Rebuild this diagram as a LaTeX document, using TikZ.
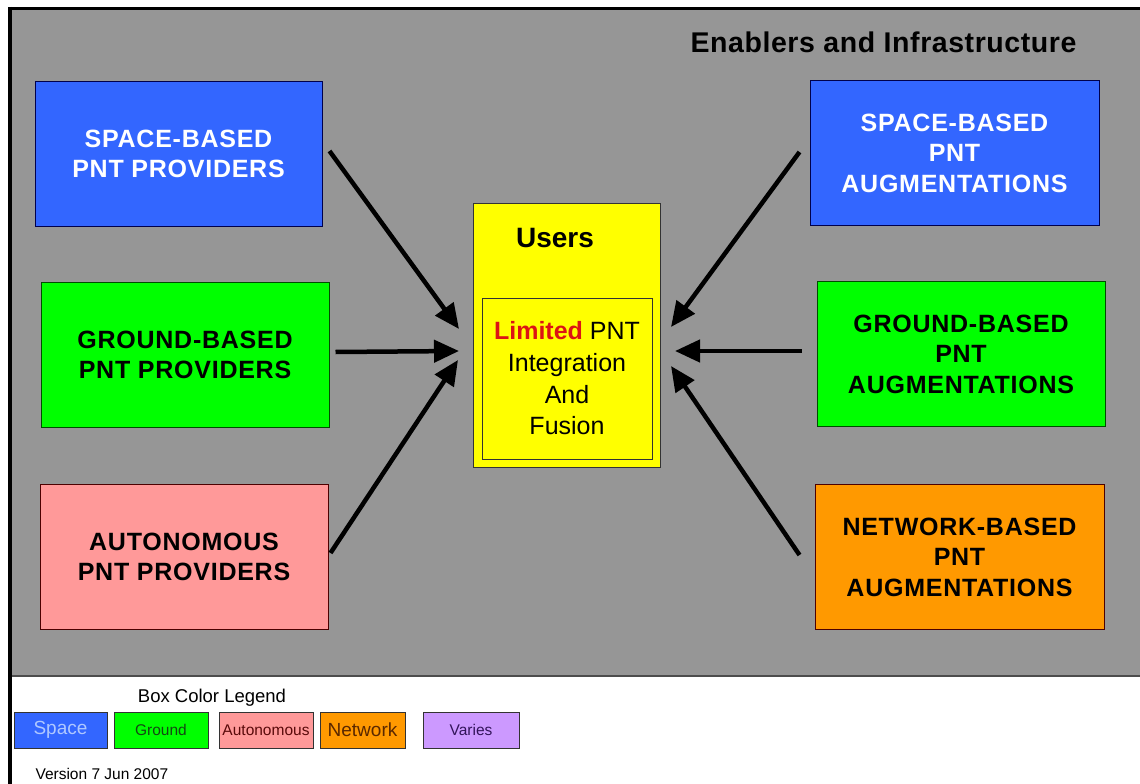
\documentclass[tikz,border=0pt]{standalone}
\usepackage{fontspec}
\setmainfont{Liberation Sans}
\usetikzlibrary{arrows.meta}
\definecolor{bggrey}{RGB}{150,150,150}
\definecolor{spaceblue}{RGB}{51,102,255}
\definecolor{groundgreen}{RGB}{0,255,0}
\definecolor{autopink}{RGB}{255,153,153}
\definecolor{netorange}{RGB}{255,153,0}
\definecolor{variespurple}{RGB}{204,153,255}
\definecolor{usersyellow}{RGB}{255,255,0}
\definecolor{limitedred}{RGB}{220,20,20}
\definecolor{spacetext}{RGB}{175,200,255}
\definecolor{groundtext}{RGB}{20,70,20}
\definecolor{autotext}{RGB}{90,10,10}
\definecolor{nettext}{RGB}{90,40,0}
\definecolor{variestext}{RGB}{50,20,90}
\tikzset{
  mainbox/.style={draw, line width=1pt, minimum width=288pt, minimum height=145pt, align=center, inner sep=0pt,
    font=\fontsize{25}{30.5}\selectfont\bfseries\addfontfeatures{LetterSpace=3}},
  legbox/.style={draw=black!80, line width=1pt, minimum height=36pt, inner sep=0pt},
  arr/.style={line width=4.5pt, -{Triangle[length=25pt,width=22pt]}},
}
\begin{document}
\begin{tikzpicture}[x=1pt,y=-1pt]
\useasboundingbox (0,0) rectangle (1140,784);
\fill[white] (0,0) rectangle (1140,784);
\fill[bggrey] (10,9) rectangle (1140,676);
\draw[black!70, line width=1.5pt] (10,676) -- (1140,676);
\draw[black, line width=3.5pt] (8,8.5) -- (1140,8.5);
\draw[black, line width=3.5pt] (10,7) -- (10,784);

\node[font=\fontsize{28.5}{30}\selectfont\bfseries\addfontfeatures{LetterSpace=2}] (title) at (883.5,42) {Enablers and Infrastructure};

% left providers
\node[mainbox, fill=spaceblue, draw=blue!30!black, text=white, minimum width=287pt] (sbp) at (178.5,154) {SPACE-BASED\\PNT PROVIDERS};
\node[mainbox, fill=groundgreen, draw=green!30!black] (gbp) at (185,355) {GROUND-BASED\\PNT PROVIDERS};
\node[mainbox, fill=autopink, draw=red!30!black] (aut) at (184,557) {AUTONOMOUS\\PNT PROVIDERS};

% right augmentations
\node[mainbox, fill=spaceblue, draw=blue!30!black, text=white, minimum width=289pt] (sba) at (954.5,153) {SPACE-BASED\\PNT\\AUGMENTATIONS};
\node[mainbox, fill=groundgreen, draw=green!30!black] (gba) at (961,354) {GROUND-BASED\\PNT\\AUGMENTATIONS};
\node[mainbox, fill=netorange, draw=red!30!black, minimum width=289pt] (nba) at (959.5,557) {NETWORK-BASED\\PNT\\AUGMENTATIONS};

% users
\node[draw=black!80, line width=1pt, fill=usersyellow, minimum width=187pt, minimum height=264pt, inner sep=0pt] (users) at (566.5,335) {};
\node[font=\fontsize{28}{30}\selectfont\bfseries] (userslbl) at (555,238) {Users};
\node[draw=black!80, line width=1pt, minimum width=170pt, minimum height=161pt, inner sep=0pt, align=center,
  font=\fontsize{25}{31.7}\selectfont] (fusion) at (567,378.5)
  {\textcolor{limitedred}{\bfseries Limited} PNT\\Integration\\And\\Fusion};

% arrows
\coordinate (t1) at (459,329);
\coordinate (t2) at (459,351);
\coordinate (t3) at (458,360);
\coordinate (t4) at (671,327);
\coordinate (t5) at (675,351);
\coordinate (t6) at (671,366);
\draw[arr] ([shift={(7,-3)}]sbp.east) -- (t1);
\draw[arr] ([shift={(6,-3)}]gbp.east) -- (t2);
\draw[arr] ([shift={(2,-4)}]aut.east) -- (t3);
\draw[arr] ([shift={(-10,-1)}]sba.west) -- (t4);
\draw[arr] ([shift={(-15,-3)}]gba.west) -- (t5);
\draw[arr] ([shift={(-15,-2)}]nba.west) -- (t6);

% legend
\node[font=\fontsize{18.5}{20}\selectfont] (legtitle) at (212,698) {Box Color Legend};
\node[legbox, fill=spaceblue, minimum width=93pt, text=spacetext, font=\fontsize{19}{20}\selectfont] (lspace) at (60.5,730) {Space};
\node[legbox, fill=groundgreen, minimum width=94pt, text=groundtext, font=\fontsize{15.5}{17}\selectfont] (lground) at (161,730) {Ground};
\node[legbox, fill=autopink, minimum width=94pt, text=autotext, font=\fontsize{15.5}{17}\selectfont] (lauto) at (266,730) {Autonomous};
\node[legbox, fill=netorange, minimum width=85pt, text=nettext, font=\fontsize{19}{20}\selectfont] (lnet) at (362.5,730) {Network};
\node[legbox, fill=variespurple, minimum width=96pt, text=variestext, font=\fontsize{15.5}{17}\selectfont] (lvar) at (471,730) {Varies};
\node[font=\fontsize{15.5}{17}\selectfont, anchor=west] (version) at (32,774) {Version 7 Jun 2007};
\end{tikzpicture}
\end{document}
